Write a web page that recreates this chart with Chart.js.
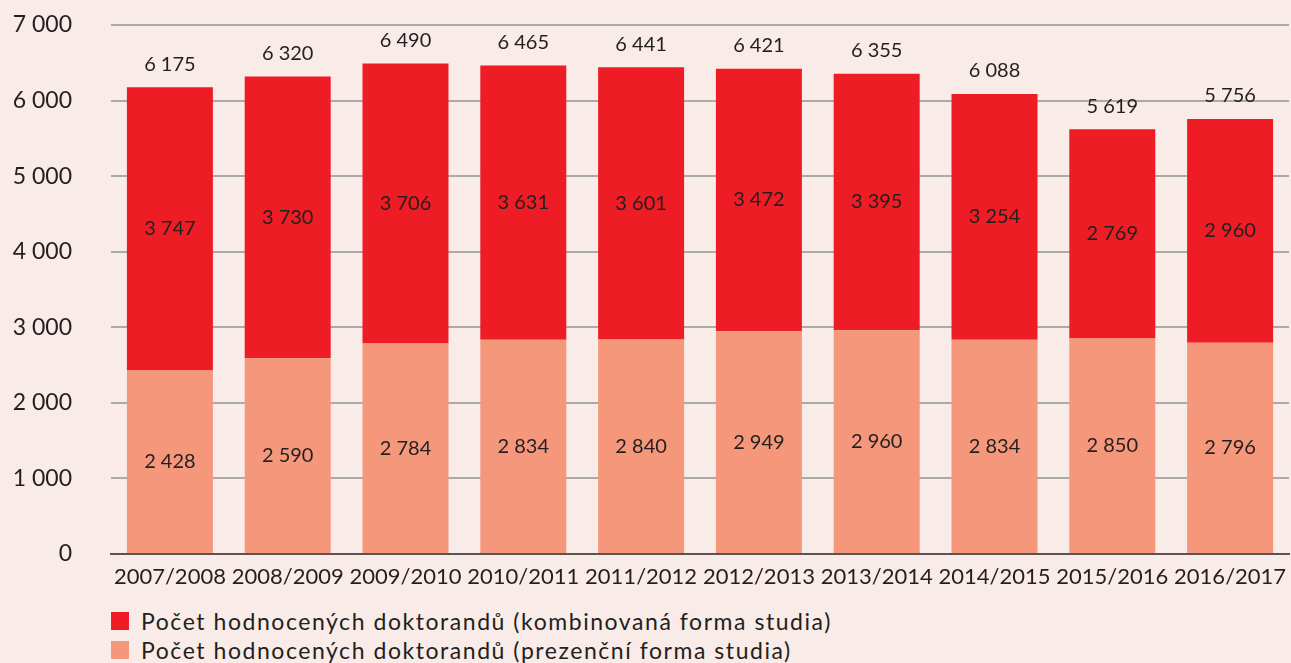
<!DOCTYPE html>
<html>
<head>
<meta charset="utf-8">
<script src="https://cdn.jsdelivr.net/npm/chart.js@4.4.0/dist/chart.umd.min.js"></script>
<style>
  html, body { margin: 0; padding: 0; background: #f9ebe7; }
  #wrap { position: relative; width: 1291px; height: 663px; overflow: hidden; }
  #doktorandiChart { position: absolute; left: 0; top: 0; }
  #legend { position: absolute; left: 111px; top: 606px; font-family: Lato, sans-serif; font-size: 23px; letter-spacing: 1.55px; color: #231f20; }
  .item { display: flex; align-items: center; height: 29px; }
  .box { width: 18px; height: 18px; margin-right: 12px; }
</style>
</head>
<body>
<div id="wrap">
  <canvas id="doktorandiChart" width="1291" height="600"></canvas>
  <div id="legend"></div>
</div>
<script>
// Data
const years = ['2007/2008', '2008/2009', '2009/2010', '2010/2011', '2011/2012',
               '2012/2013', '2013/2014', '2014/2015', '2015/2016', '2016/2017'];
const prezencni = [2428, 2590, 2784, 2834, 2840, 2949, 2960, 2834, 2850, 2796];
const kombinovana = [3747, 3730, 3706, 3631, 3601, 3472, 3395, 3254, 2769, 2960];
const totals = [6175, 6320, 6490, 6465, 6441, 6421, 6355, 6088, 5619, 5756];
const labelKomb = 'Počet hodnocených doktorandů (kombinovaná forma studia)';
const labelPrez = 'Počet hodnocených doktorandů (prezenční forma studia)';

const RED = '#ee1d25';
const SALMON = '#f5977a';
const TEXT = '#231f20';

// thousands separated by a space, as in the Czech original
function fmt(n) {
    return String(n).replace(/\B(?=(\d{3})+(?!\d))/g, ' ');
}

// Draws values inside the segments and totals above the bars
const valueLabels = {
    id: 'valueLabels',
    afterDatasetsDraw(chart) {
        const ctx = chart.ctx;
        ctx.save();
        ctx.font = '20px Lato, sans-serif';
        ctx.fillStyle = TEXT;
        ctx.textAlign = 'center';
        ctx.textBaseline = 'middle';
        chart.data.datasets.forEach((ds, i) => {
            const meta = chart.getDatasetMeta(i);
            meta.data.forEach((bar, j) => {
                ctx.fillText(fmt(ds.data[j]), bar.x, (bar.y + bar.base) / 2);
            });
        });
        const topMeta = chart.getDatasetMeta(1);
        topMeta.data.forEach((bar, j) => {
            ctx.fillText(fmt(totals[j]), bar.x, bar.y - 23);
        });
        ctx.restore();
    }
};

window.onload = function () {
    const ctx = document.getElementById('doktorandiChart').getContext('2d');

    new Chart(ctx, {
        type: 'bar',
        data: {
            labels: years,
            datasets: [{
                label: labelPrez,
                data: prezencni,
                backgroundColor: SALMON,
                categoryPercentage: 1,
                barPercentage: 0.73
            }, {
                label: labelKomb,
                data: kombinovana,
                backgroundColor: RED,
                categoryPercentage: 1,
                barPercentage: 0.73
            }]
        },
        options: {
            responsive: false,
            animation: false,
            layout: { padding: { left: 0, right: 2, top: 25, bottom: 0 } },
            scales: {
                x: {
                    stacked: true,
                    grid: { display: false, drawTicks: false },
                    border: { color: '#5b5353', width: 2 },
                    ticks: { color: TEXT, font: { family: 'Lato', size: 22 }, padding: 10, maxRotation: 0, autoSkip: false },
                    afterFit(scale) {
                        scale.height = 46;
                        scale.paddingLeft = 0;
                        scale.paddingRight = 0;
                    }
                },
                y: {
                    stacked: true,
                    min: 0,
                    max: 7000,
                    grid: { color: '#aaaaaa', lineWidth: 2, drawTicks: false },
                    border: { display: false },
                    ticks: {
                        stepSize: 1000,
                        color: TEXT,
                        font: { family: 'Lato', size: 23 },
                        padding: 39,
                        callback: v => fmt(v)
                    },
                    // tick padding would otherwise also pad the top and bottom of the plot
                    afterFit(scale) {
                        scale.width = 111;
                        scale.paddingTop = 0;
                        scale.paddingBottom = 0;
                    }
                }
            },
            plugins: {
                legend: { display: false },
                tooltip: { enabled: false }
            }
        },
        plugins: [valueLabels]
    });

    // legend below the chart, red series first
    const legend = document.getElementById('legend');
    [[RED, labelKomb], [SALMON, labelPrez]].forEach(([color, text]) => {
        const item = document.createElement('div');
        item.className = 'item';
        item.innerHTML = '<span class="box" style="background:' + color + '"></span>' + text;
        legend.appendChild(item);
    });
};
</script>
</body>
</html>
